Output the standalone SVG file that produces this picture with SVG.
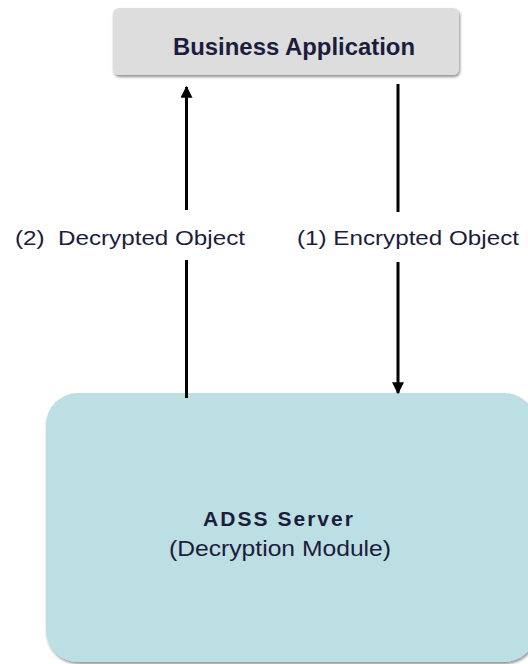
<svg xmlns="http://www.w3.org/2000/svg" width="528" height="664" viewBox="0 0 528 664">
<defs>
<style>
.t{font-family:"Liberation Sans",Arial,sans-serif;fill:#1c1c3c}
.b{font-weight:bold}
.ln{stroke:#000;stroke-width:3;fill:none}
</style>
<marker id="ah" viewBox="0 0 10 10" refX="9" refY="5" markerWidth="4" markerHeight="4" orient="auto" markerUnits="strokeWidth">
<path d="M0,0 L10,5 L0,10 z" fill="#000"/>
</marker>
<filter id="sh" x="-10%" y="-10%" width="120%" height="130%">
<feGaussianBlur in="SourceAlpha" stdDeviation="1.5"/>
<feOffset dx="1" dy="2" result="o"/>
<feComponentTransfer><feFuncA type="linear" slope="0.45"/></feComponentTransfer>
<feMerge><feMergeNode/><feMergeNode in="SourceGraphic"/></feMerge>
</filter>
</defs>
<rect width="528" height="664" fill="#fff"/>
<g id="business-application">
<rect x="113" y="8" width="346" height="67" rx="6" fill="#dddddd" filter="url(#sh)"/>
<text class="t b" x="294" y="55" font-size="23" text-anchor="middle" textLength="242" lengthAdjust="spacingAndGlyphs">Business Application</text>
</g>
<g id="adss-server">
<rect x="46" y="393" width="490" height="269" rx="32" fill="#bcdfe3" filter="url(#sh)"/>
<text class="t b" x="278" y="526" font-size="21" text-anchor="middle" textLength="150" lengthAdjust="spacing">ADSS Server</text>
<text class="t" x="280" y="556" font-size="22" text-anchor="middle" textLength="222" lengthAdjust="spacingAndGlyphs">(Decryption Module)</text>
</g>
<g id="connectors">
<line class="ln" x1="186.5" y1="210" x2="186.5" y2="87" marker-end="url(#ah)"/>
<line class="ln" x1="186.5" y1="260" x2="186.5" y2="398"/>
<line class="ln" x1="398" y1="84" x2="398" y2="212"/>
<line class="ln" x1="398" y1="262" x2="398" y2="393" marker-end="url(#ah)"/>
<text class="t" x="15" y="245" font-size="21" textLength="230" lengthAdjust="spacingAndGlyphs" style="white-space:pre">(2)  Decrypted Object</text>
<text class="t" x="297" y="245" font-size="21" textLength="222" lengthAdjust="spacingAndGlyphs">(1) Encrypted Object</text>
</g>
</svg>
